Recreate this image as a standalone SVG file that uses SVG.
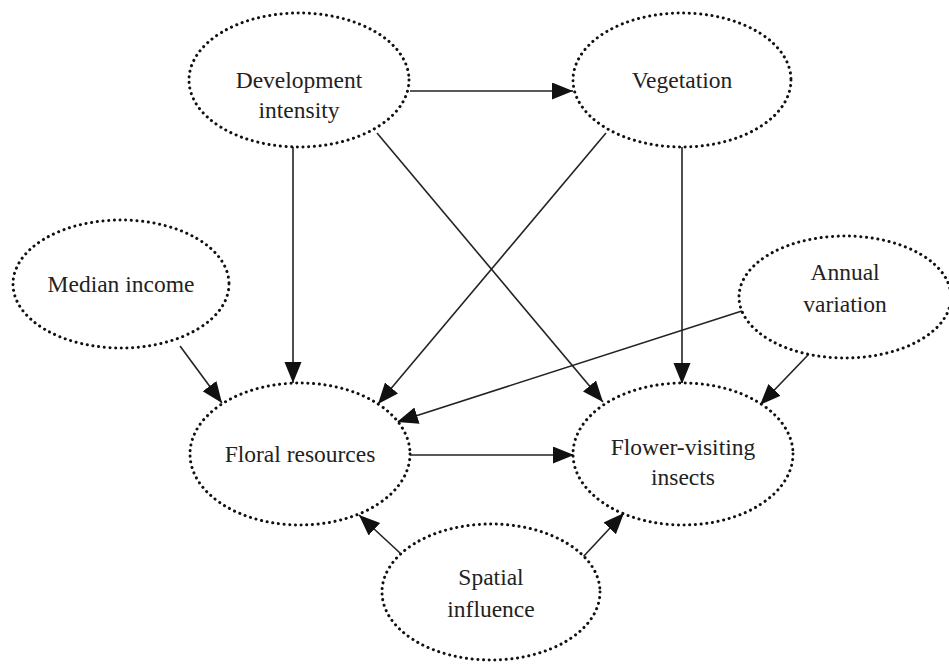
<svg xmlns="http://www.w3.org/2000/svg" width="949" height="665" viewBox="0 0 949 665">
<style>
.node ellipse{fill:#fff;stroke:#111;stroke-width:3;stroke-dasharray:0.1 5.6;stroke-linecap:round}
.node text{font-family:"Liberation Serif","Times New Roman",serif;font-size:23.5px;fill:#222;text-anchor:middle}
.edges line{stroke:#222;stroke-width:1.6;marker-end:url(#ah)}
</style>
<defs>
<marker id="ah" markerUnits="userSpaceOnUse" markerWidth="22" markerHeight="18" refX="21" refY="8.5" orient="auto">
<path d="M0,0 L21,8.5 L0,17 z" fill="#111"/>
</marker>
</defs>
<rect width="949" height="665" fill="#fff"/>
<g class="edges" id="connectors">
<line x1="410" y1="91" x2="573" y2="91"/>
<line x1="293" y1="147" x2="293" y2="383"/>
<line x1="377" y1="133" x2="603" y2="402"/>
<line x1="606" y1="133" x2="378" y2="404"/>
<line x1="682" y1="147" x2="682" y2="384"/>
<line x1="180" y1="346" x2="222" y2="403"/>
<line x1="745" y1="310" x2="397" y2="422"/>
<line x1="808" y1="355" x2="760" y2="405"/>
<line x1="410" y1="455" x2="574" y2="455"/>
<line x1="400" y1="553" x2="359" y2="515"/>
<line x1="583" y1="557" x2="624" y2="513"/>
</g>
<g class="node" id="development"><ellipse cx="299" cy="80" rx="110" ry="67"/><text x="299" y="88">Development</text><text x="299" y="118">intensity</text></g>
<g class="node" id="vegetation"><ellipse cx="682" cy="80" rx="109" ry="67"/><text x="682" y="88">Vegetation</text></g>
<g class="node" id="median"><ellipse cx="121" cy="284" rx="108" ry="64"/><text x="121" y="292">Median income</text></g>
<g class="node" id="annual"><ellipse cx="845" cy="297" rx="106" ry="61"/><text x="845" y="280">Annual</text><text x="845" y="312">variation</text></g>
<g class="node" id="floral"><ellipse cx="300" cy="454" rx="110" ry="71"/><text x="300" y="462">Floral resources</text></g>
<g class="node" id="flower"><ellipse cx="683" cy="454" rx="110" ry="71"/><text x="683" y="455">Flower-visiting</text><text x="683" y="485">insects</text></g>
<g class="node" id="spatial"><ellipse cx="491" cy="592" rx="109" ry="68"/><text x="491" y="585">Spatial</text><text x="491" y="617">influence</text></g>
</svg>
